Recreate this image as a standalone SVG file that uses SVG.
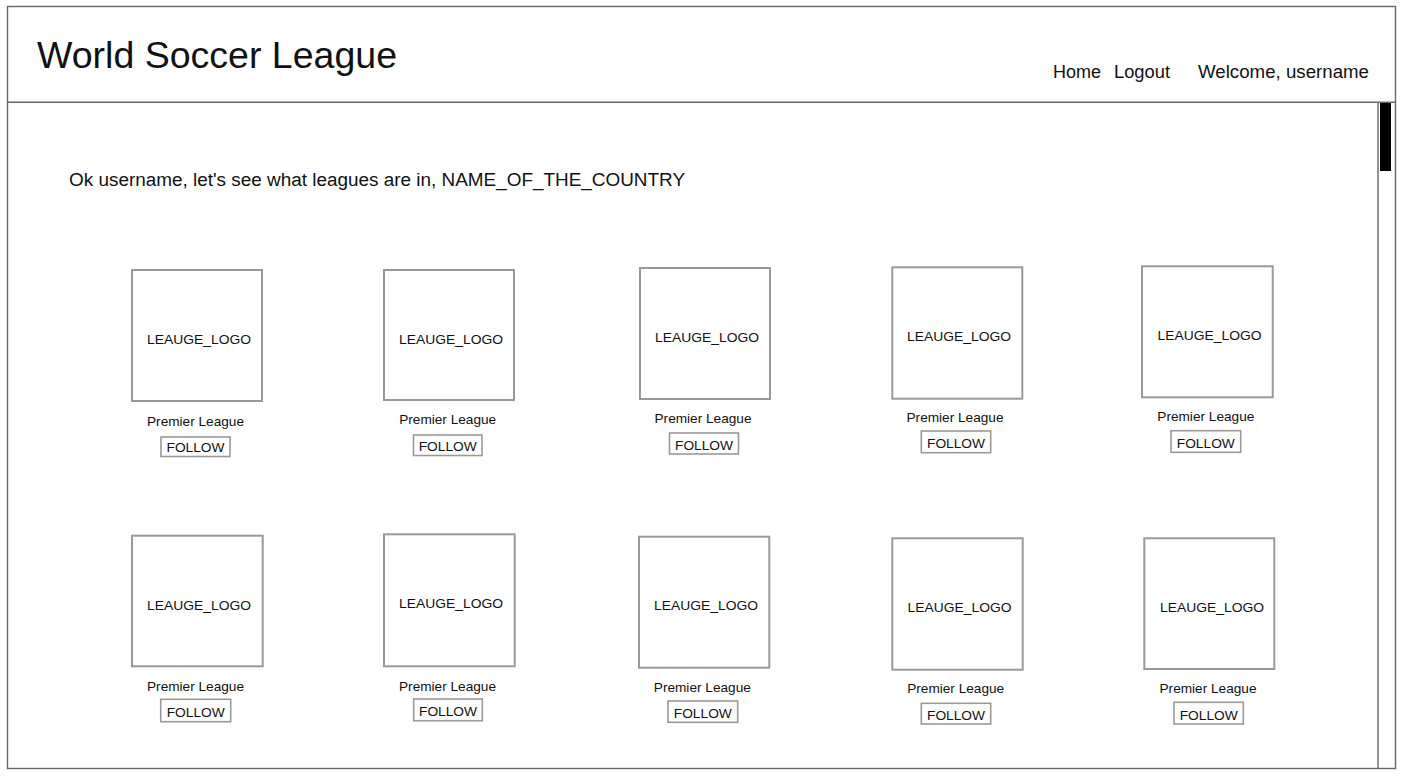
<svg xmlns="http://www.w3.org/2000/svg" width="1410" height="782" viewBox="0 0 1410 782">
<style>
  text { font-family: "Liberation Sans", Arial, Helvetica, sans-serif; fill: #111; }
  .frame { fill: none; stroke: #666; stroke-width: 1.4; }
  .logo { fill: #fff; stroke: #999; stroke-width: 2; }
  .btn { fill: #fff; stroke: #999; stroke-width: 1.6; }
  .lt { font-size: 13.5px; text-anchor: middle; }
  .pl { font-size: 13px; text-anchor: middle; }
  .ft { font-size: 13.5px; text-anchor: middle; }
  .nav { font-size: 17.5px; }
</style>
<rect x="0" y="0" width="1410" height="782" fill="#fff"/>
<g id="page">
  <rect class="frame" x="7.5" y="6.5" width="1388" height="762"/>
  <line class="frame" x1="7.5" y1="102.3" x2="1395.5" y2="102.3"/>
</g>
<g id="header">
  <text x="37" y="68" font-size="37" textLength="360" lengthAdjust="spacingAndGlyphs">World Soccer League</text>
  <text class="nav" x="1053" y="78" textLength="48" lengthAdjust="spacingAndGlyphs">Home</text>
  <text class="nav" x="1114" y="78" textLength="56" lengthAdjust="spacingAndGlyphs">Logout</text>
  <text class="nav" x="1198" y="78" textLength="171" lengthAdjust="spacingAndGlyphs">Welcome, username</text>
</g>
<g id="scrollbar">
  <line class="frame" x1="1378" y1="102.3" x2="1378" y2="768.5"/>
  <rect x="1380" y="103" width="11" height="68" fill="#000"/>
</g>
<g id="intro">
  <text x="69" y="186" font-size="18" textLength="616" lengthAdjust="spacingAndGlyphs">Ok username, let's see what leagues are in, NAME_OF_THE_COUNTRY</text>
</g>
<g id="connectors"></g>

<g id="card-1-1">
  <rect class="logo" x="132" y="270" width="130" height="131"/>
  <text class="lt" x="199" y="344" textLength="104" lengthAdjust="spacingAndGlyphs">LEAUGE_LOGO</text>
  <text class="pl" x="195.5" y="425.5" textLength="97" lengthAdjust="spacingAndGlyphs">Premier League</text>
  <rect class="btn" x="161" y="437" width="69" height="19.5"/>
  <text class="ft" x="195.5" y="452" textLength="58" lengthAdjust="spacingAndGlyphs">FOLLOW</text>
</g>
<g id="card-1-2">
  <rect class="logo" x="384" y="270" width="130" height="130"/>
  <text class="lt" x="451" y="343.5" textLength="104" lengthAdjust="spacingAndGlyphs">LEAUGE_LOGO</text>
  <text class="pl" x="447.7" y="424" textLength="97" lengthAdjust="spacingAndGlyphs">Premier League</text>
  <rect class="btn" x="413.5" y="435" width="68.5" height="20.5"/>
  <text class="ft" x="447.7" y="451" textLength="58" lengthAdjust="spacingAndGlyphs">FOLLOW</text>
</g>
<g id="card-1-3">
  <rect class="logo" x="640" y="268" width="130" height="131"/>
  <text class="lt" x="707" y="342.3" textLength="104" lengthAdjust="spacingAndGlyphs">LEAUGE_LOGO</text>
  <text class="pl" x="703" y="422.7" textLength="97" lengthAdjust="spacingAndGlyphs">Premier League</text>
  <rect class="btn" x="669.5" y="433" width="69" height="21"/>
  <text class="ft" x="704" y="449.5" textLength="58" lengthAdjust="spacingAndGlyphs">FOLLOW</text>
</g>
<g id="card-1-4">
  <rect class="logo" x="892.3" y="267.3" width="130" height="131.4"/>
  <text class="lt" x="959" y="340.7" textLength="104" lengthAdjust="spacingAndGlyphs">LEAUGE_LOGO</text>
  <text class="pl" x="955" y="422.3" textLength="97" lengthAdjust="spacingAndGlyphs">Premier League</text>
  <rect class="btn" x="921.3" y="431" width="69.4" height="21.7"/>
  <text class="ft" x="956" y="448" textLength="58" lengthAdjust="spacingAndGlyphs">FOLLOW</text>
</g>
<g id="card-1-5">
  <rect class="logo" x="1142" y="266.3" width="130.7" height="131"/>
  <text class="lt" x="1209.5" y="340.3" textLength="104" lengthAdjust="spacingAndGlyphs">LEAUGE_LOGO</text>
  <text class="pl" x="1205.8" y="421" textLength="97" lengthAdjust="spacingAndGlyphs">Premier League</text>
  <rect class="btn" x="1171" y="430.7" width="69.7" height="21.6"/>
  <text class="ft" x="1205.8" y="447.8" textLength="58" lengthAdjust="spacingAndGlyphs">FOLLOW</text>
</g>

<g id="card-2-1">
  <rect class="logo" x="132" y="535.7" width="130.7" height="130.6"/>
  <text class="lt" x="199" y="610" textLength="104" lengthAdjust="spacingAndGlyphs">LEAUGE_LOGO</text>
  <text class="pl" x="195.5" y="690.7" textLength="97" lengthAdjust="spacingAndGlyphs">Premier League</text>
  <rect class="btn" x="160.7" y="699.3" width="70" height="22.4"/>
  <text class="ft" x="195.7" y="717" textLength="58" lengthAdjust="spacingAndGlyphs">FOLLOW</text>
</g>
<g id="card-2-2">
  <rect class="logo" x="384" y="534.3" width="130.7" height="132"/>
  <text class="lt" x="451" y="608.3" textLength="104" lengthAdjust="spacingAndGlyphs">LEAUGE_LOGO</text>
  <text class="pl" x="447.5" y="690.7" textLength="97" lengthAdjust="spacingAndGlyphs">Premier League</text>
  <rect class="btn" x="413.7" y="699" width="68.6" height="21.7"/>
  <text class="ft" x="448" y="716.2" textLength="58" lengthAdjust="spacingAndGlyphs">FOLLOW</text>
</g>
<g id="card-2-3">
  <rect class="logo" x="639" y="536.7" width="130.3" height="131"/>
  <text class="lt" x="706" y="610" textLength="104" lengthAdjust="spacingAndGlyphs">LEAUGE_LOGO</text>
  <text class="pl" x="702.3" y="691.7" textLength="97" lengthAdjust="spacingAndGlyphs">Premier League</text>
  <rect class="btn" x="668" y="701" width="69.7" height="21.3"/>
  <text class="ft" x="702.8" y="717.8" textLength="58" lengthAdjust="spacingAndGlyphs">FOLLOW</text>
</g>
<g id="card-2-4">
  <rect class="logo" x="892.3" y="538.3" width="130.4" height="131.4"/>
  <text class="lt" x="959.5" y="611.7" textLength="104" lengthAdjust="spacingAndGlyphs">LEAUGE_LOGO</text>
  <text class="pl" x="955.7" y="693.3" textLength="97" lengthAdjust="spacingAndGlyphs">Premier League</text>
  <rect class="btn" x="921.3" y="703.3" width="69.4" height="20.7"/>
  <text class="ft" x="956" y="719.5" textLength="58" lengthAdjust="spacingAndGlyphs">FOLLOW</text>
</g>
<g id="card-2-5">
  <rect class="logo" x="1144.3" y="538.3" width="130" height="130.7"/>
  <text class="lt" x="1212" y="611.7" textLength="104" lengthAdjust="spacingAndGlyphs">LEAUGE_LOGO</text>
  <text class="pl" x="1208" y="693.3" textLength="97" lengthAdjust="spacingAndGlyphs">Premier League</text>
  <rect class="btn" x="1174" y="702.3" width="69.3" height="21.7"/>
  <text class="ft" x="1208.7" y="719.5" textLength="58" lengthAdjust="spacingAndGlyphs">FOLLOW</text>
</g>
</svg>
